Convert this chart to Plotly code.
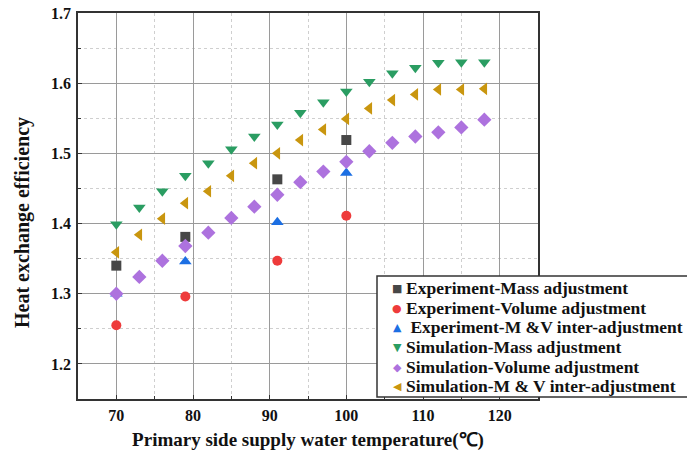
import plotly.graph_objects as go

# ---- data ----
exp_x = [70, 79, 91, 100]
exp_mass = [1.340, 1.381, 1.463, 1.519]
exp_volume = [1.255, 1.296, 1.347, 1.411]
exp_mv = [1.300, 1.346, 1.402, 1.472]

sim_x = [70, 73, 76, 79, 82, 85, 88, 91, 94, 97, 100, 103, 106, 109, 112, 115, 118]
sim_mass = [1.399, 1.423, 1.446, 1.468, 1.486, 1.506, 1.524, 1.541, 1.558, 1.573,
            1.588, 1.602, 1.614, 1.622, 1.629, 1.630, 1.630]
sim_volume = [1.300, 1.324, 1.347, 1.368, 1.387, 1.408, 1.424, 1.441, 1.459, 1.474,
              1.488, 1.503, 1.515, 1.524, 1.530, 1.537, 1.548]
sim_mv = [1.359, 1.384, 1.407, 1.429, 1.446, 1.468, 1.486, 1.500, 1.519, 1.534,
          1.549, 1.564, 1.576, 1.584, 1.591, 1.591, 1.592]

names = ["Experiment-Mass adjustment", "Experiment-Volume adjustment",
         " Experiment-M &V inter-adjustment", "Simulation-Mass adjustment",
         "Simulation-Volume adjustment", "Simulation-M & V inter-adjustment"]
legend_glyphs = ["■", "●", "▲", "▼", "◆", "◀"]

FONT = "Liberation Serif"

# plot area in pixels (for converting layout positions to paper coords)
W, H = 687, 461
L, R, T, B = 78, 149, 13, 62
PW, PH = W - L - R, H - T - B


def px(x):
    return (x - L) / PW


def py(y):
    return (H - B - y) / PH


fig = go.Figure()
series = [
    (exp_x, exp_mass, "square", "#474747", 10),
    (exp_x, exp_volume, "circle", "#ee3b3b", 10),
    (exp_x, exp_mv, "triangle-up", "#1c6fe3", 11),
    (sim_x, sim_mass, "triangle-down", "#2a9d62", 11),
    (sim_x, sim_volume, "diamond", "#ad72de", 11),
    (sim_x, sim_mv, "triangle-left", "#c9960f", 11),
]
for (xs, ys, sym, col, sz), nm in zip(series, names):
    fig.add_trace(go.Scatter(x=xs, y=ys, mode="markers", name=nm, showlegend=False,
                             marker=dict(symbol=sym, color=col, size=sz, line=dict(width=0))))

axis_common = dict(
    showline=True, linecolor="#333333", linewidth=1.5, mirror=True,
    showgrid=True, gridcolor="#9a9a9a", gridwidth=1,
    ticks="inside", ticklen=4, tickcolor="#333333",
    zeroline=False,
    tickfont=dict(family=FONT, size=16, color="#111111", weight="bold"),
)

fig.update_xaxes(
    range=[65, 125], tickvals=[70, 80, 90, 100, 110, 120],
    minor=dict(dtick=5, showgrid=True, gridcolor="#cfcfcf", griddash="dot",
               ticks="inside", ticklen=3, tickcolor="#333333"),
    ticklabelstandoff=1,
    title=dict(text="Primary side supply water temperature(℃)",
               font=dict(family=FONT, size=19, color="#111111", weight="bold"), standoff=10),
    **axis_common,
)
fig.update_yaxes(
    range=[1.15, 1.7], tickvals=[1.2, 1.3, 1.4, 1.5, 1.6, 1.7],
    tickformat=".1f",
    minor=dict(dtick=0.05, showgrid=True, gridcolor="#cfcfcf", griddash="dot",
               ticks="inside", ticklen=3, tickcolor="#333333"),
    ticklabelstandoff=2,
    **axis_common,
)

annotations = [
    dict(text="Heat exchange efficiency", textangle=-90, xref="paper", yref="paper",
         x=px(23), y=py(223), xanchor="center", yanchor="middle", showarrow=False,
         font=dict(family=FONT, size=20, color="#111111", weight="bold")),
]

# manual legend (box + glyphs + labels)
row_y = [288, 308, 327, 347, 367, 386]
for i, (nm, g) in enumerate(zip(names, legend_glyphs)):
    col = series[i][3]
    annotations.append(dict(text=g, xref="paper", yref="paper", x=px(397), y=py(row_y[i]),
                            xanchor="center", yanchor="middle", showarrow=False,
                            font=dict(family="DejaVu Sans", size=11, color=col)))
    annotations.append(dict(text=nm, xref="paper", yref="paper", x=px(404), y=py(row_y[i]),
                            xanchor="left", yanchor="middle", showarrow=False,
                            font=dict(family=FONT, size=17.5, color="#111111", weight="bold")))

shapes = [dict(type="rect", xref="paper", yref="paper", x0=px(377), x1=px(720),
               y0=py(397), y1=py(276), fillcolor="white",
               line=dict(color="#333333", width=1.5), layer="above")]

fig.update_layout(
    width=W, height=H,
    margin=dict(l=L, r=R, t=T, b=B, autoexpand=False),
    paper_bgcolor="white", plot_bgcolor="white",
    showlegend=False,
    annotations=annotations,
    shapes=shapes,
)

fig.write_html("out.html")
